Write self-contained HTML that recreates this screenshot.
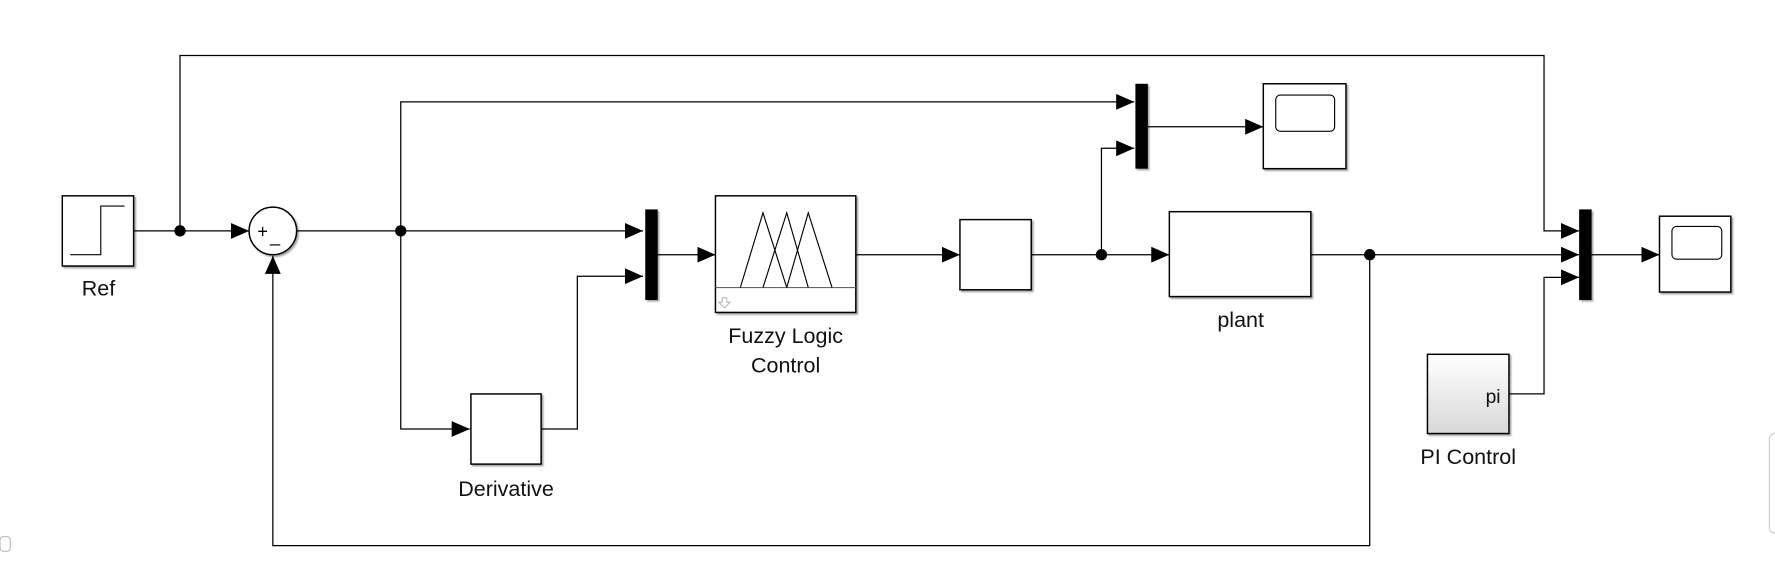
<!DOCTYPE html>
<html><head><style>html,body{margin:0;padding:0;background:#fff;overflow:hidden}svg{display:block}</style></head>
<body>
<svg width="1775" height="561" viewBox="0 0 1568 495.6" xmlns="http://www.w3.org/2000/svg" font-family="Liberation Sans, sans-serif">
<defs>
<marker id="a" viewBox="0 0 16 14" refX="16" refY="7" markerWidth="16" markerHeight="14" markerUnits="userSpaceOnUse" orient="auto"><path d="M0,0 L16,7 L0,14 Z" fill="#000"/></marker>
<linearGradient id="g" x1="0" y1="0" x2="0" y2="1"><stop offset="0" stop-color="#fff"/><stop offset="1" stop-color="#d8d8d8"/></linearGradient>
<filter id="s" x="-10%" y="-10%" width="130%" height="130%"><feDropShadow dx="1.5" dy="1.5" stdDeviation="0.8" flood-color="#000" flood-opacity="0.35"/></filter>
</defs>
<g fill="none" stroke="#000" stroke-width="1.1">
<polyline points="118,204 220,204" marker-end="url(#a)"/>
<polyline points="159,204 159,49 1364,49 1364,204 1395,204" marker-end="url(#a)"/>
<polyline points="262,204 568,204" marker-end="url(#a)"/>
<polyline points="354,204 354,90 1002,90" marker-end="url(#a)"/>
<polyline points="354,204 354,379 415,379" marker-end="url(#a)"/>
<polyline points="478,379 510,379 510,244 568,244" marker-end="url(#a)"/>
<polyline points="581,225 632,225" marker-end="url(#a)"/>
<polyline points="756,225 848,225" marker-end="url(#a)"/>
<polyline points="911,225 1033,225" marker-end="url(#a)"/>
<polyline points="973,225 973,131 1002,131" marker-end="url(#a)"/>
<polyline points="1014,112 1116,112" marker-end="url(#a)"/>
<polyline points="1158,225 1395,225" marker-end="url(#a)"/>
<polyline points="1210,225 1210,482 241,482 241,226" marker-end="url(#a)"/>
<polyline points="1406,225 1466,225" marker-end="url(#a)"/>
<polyline points="1333,348 1364,348 1364,245 1395,245" marker-end="url(#a)"/>
</g>
<g fill="#000">
<circle cx="159" cy="204" r="5"/><circle cx="354" cy="204" r="5"/><circle cx="973" cy="225" r="5"/><circle cx="1210" cy="225" r="5"/>
<rect x="570" y="185" width="11" height="80" filter="url(#s)"/>
<rect x="1003" y="74" width="11" height="75" filter="url(#s)"/>
<rect x="1395" y="185" width="11" height="80" filter="url(#s)"/>
</g>
<g fill="#fff" stroke="#000" stroke-width="1.3" filter="url(#s)">
<rect x="55" y="173" width="63" height="62"/>
<circle cx="241" cy="204" r="21"/>
<rect x="416" y="348" width="62" height="62"/>
<rect x="632" y="173" width="124" height="103"/>
<rect x="848" y="194" width="63" height="62"/>
<rect x="1033" y="187" width="125" height="75"/>
<rect x="1116" y="74" width="73" height="75"/>
<rect x="1466" y="191" width="63" height="67"/>
<rect x="1261" y="313" width="72" height="70" fill="url(#g)"/>
</g>
<g fill="none" stroke="#000" stroke-width="1">
<polyline points="62,225 89,225 89,182 110,182"/>
<line x1="632" y1="254" x2="756" y2="254" stroke="#666"/>
<polyline points="654,254 674,188 695,254"/>
<polyline points="674,254 695,188 714,254"/>
<polyline points="695,254 714,188 735,254"/>
<rect x="1127" y="84" width="52" height="32" rx="4"/>
<rect x="1477" y="200" width="44" height="29" rx="4"/>
</g>
<path d="M638,263 h4 v4 h3 l-5,5 l-5,-5 h3 z" fill="none" stroke="#aaa" stroke-width="0.8"/>
<text x="232" y="210" font-size="16" text-anchor="middle">+</text>
<text x="243" y="214" font-size="16" text-anchor="middle">_</text>
<g font-size="19" text-anchor="middle" fill="#111">
<text x="87" y="261">Ref</text>
<text x="447" y="438">Derivative</text>
<text x="694" y="303">Fuzzy Logic</text>
<text x="694" y="329">Control</text>
<text x="1096" y="289">plant</text>
<text x="1297" y="410">PI Control</text>
<text x="1319" y="356" font-size="17">pi</text>
</g>
<rect x="1563" y="383" width="10" height="88" rx="5" fill="none" stroke="#ccc"/>
<rect x="0" y="474" width="9" height="13" rx="3" fill="none" stroke="#bbb"/>
</svg>
</body></html>
